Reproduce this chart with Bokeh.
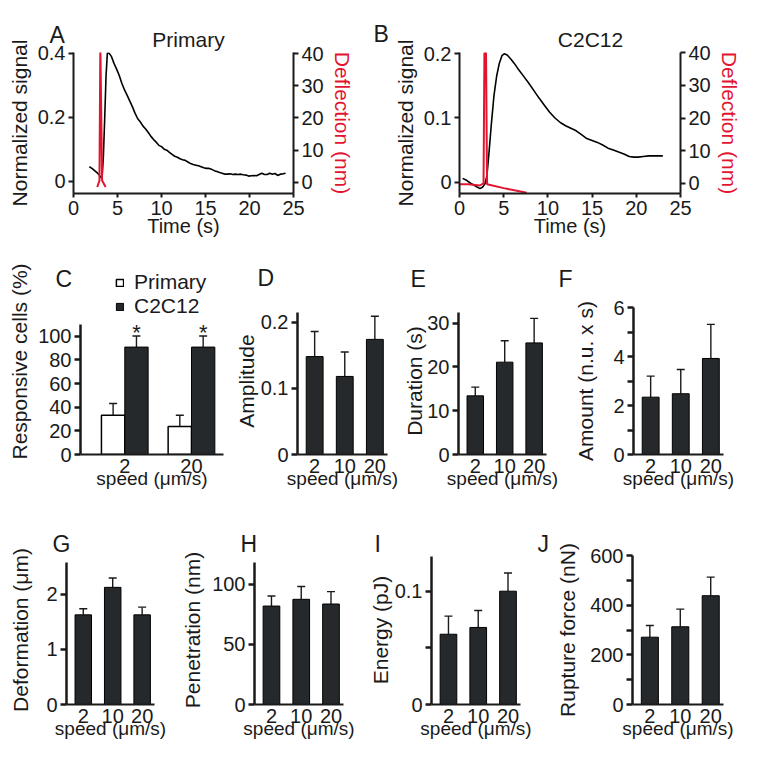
from bokeh.plotting import figure
from bokeh.layouts import column, row
from bokeh.models import (Range1d, LinearAxis, FixedTicker, Label, LabelSet,
                          Whisker, TeeHead, ColumnDataSource, Legend, LegendItem)
from bokeh.core.properties import value
from bokeh.embed import file_html
from bokeh.resources import INLINE

FONT = "Liberation Sans"
RED = "#e2142f"
DARK = "#26292b"
INK = "#1a1a1a"

# ---------------- data ----------------
a_time = [1.8, 2.1, 2.4, 2.7, 2.9, 3.1, 3.25, 3.4, 3.55, 3.7, 3.85, 4.05, 4.3, 4.6, 4.9,
          5.2, 5.5, 5.8, 6.1, 6.4, 6.7, 7.0, 7.3, 7.6, 7.9, 8.2, 8.5, 8.8, 9.1, 9.4, 9.7,
          10.0, 10.3, 10.6, 10.9, 11.2, 11.5, 11.8, 12.1, 12.4, 12.7, 13.0, 13.3, 13.6,
          13.9, 14.2, 14.5, 14.8, 15.1, 15.4, 15.7, 16.0, 16.3, 16.6, 16.9, 17.2, 17.5,
          17.8, 18.1, 18.4, 18.7, 19.0, 19.3, 19.6, 19.9, 20.2, 20.5, 20.8, 21.1, 21.4,
          21.7, 22.0, 22.3, 22.6, 22.9, 23.2, 23.5, 23.8, 24.1]
a_signal = [0.045, 0.040, 0.033, 0.026, 0.020, 0.012, 0.010, 0.08, 0.20, 0.33, 0.400, 0.400,
            0.390, 0.368, 0.350, 0.330, 0.305, 0.285, 0.268, 0.250, 0.232, 0.212, 0.195,
            0.185, 0.172, 0.163, 0.152, 0.140, 0.130, 0.122, 0.112, 0.108, 0.100, 0.097,
            0.090, 0.084, 0.078, 0.075, 0.070, 0.067, 0.065, 0.060, 0.055, 0.052, 0.050,
            0.048, 0.045, 0.042, 0.040, 0.040, 0.037, 0.033, 0.030, 0.027, 0.025, 0.022,
            0.022, 0.023, 0.021, 0.022, 0.021, 0.022, 0.020, 0.019, 0.016, 0.017, 0.018,
            0.017, 0.021, 0.025, 0.021, 0.021, 0.025, 0.022, 0.024, 0.018, 0.022, 0.023,
            0.025]
a_defl_time = [2.7, 2.95, 3.05, 3.25, 3.65]
a_defl = [-1.5, 0.5, 43.0, 0.5, -1.5]

b_time = [0.35, 0.8, 1.3, 1.8, 2.3, 2.6, 2.9, 3.1, 3.3, 3.6, 3.9, 4.2, 4.5, 4.8, 5.05,
          5.4, 5.8, 6.2, 6.7, 7.2, 7.8, 8.4, 9.0, 9.6, 10.2, 10.8, 11.4, 12.0, 12.6, 13.2,
          13.8, 14.4, 15.0, 15.6, 16.2, 16.8, 17.4, 18.0, 18.6, 19.2, 19.7, 20.2, 20.8,
          21.4, 22.0, 22.6, 23.0]
b_signal = [0.006, 0.003, -0.002, -0.006, -0.010, -0.008, -0.002, 0.010, 0.040, 0.090,
            0.135, 0.165, 0.185, 0.197, 0.200, 0.198, 0.192, 0.185, 0.175, 0.166, 0.155,
            0.143, 0.131, 0.120, 0.109, 0.100, 0.093, 0.088, 0.084, 0.080, 0.074, 0.068,
            0.065, 0.062, 0.058, 0.053, 0.050, 0.047, 0.044, 0.040, 0.039, 0.039, 0.040,
            0.041, 0.041, 0.041, 0.041]
b_defl_time = [0.0, 1.0, 2.3, 2.72, 2.82, 3.0, 3.12, 5.0, 7.6]
b_defl = [-0.3, -0.3, -0.7, 0.0, 40.0, 40.0, -0.3, -1.5, -2.9]

time_ticks = [0, 5, 10, 15, 20, 25]
defl_ticks = [0, 10, 20, 30, 40]
a_ticks = [0, 0.2, 0.4]
a_tick_labels = ["0", "0.2", "0.4"]
b_ticks = [0, 0.1, 0.2]
b_tick_labels = ["0", "0.1", "0.2"]

c_speeds = ["2", "20"]
c_primary = [33.2, 23.6]
c_primary_sem = [10.0, 9.6]
c_c2c12 = [90.9, 90.9]
c_c2c12_sem = [9.4, 9.4]
c_ticks = [0, 20, 40, 60, 80, 100]
c_tick_labels = ["0", "20", "40", "60", "80", "100"]

speeds = ["2", "10", "20"]
amplitude = [0.148, 0.118, 0.174]
amplitude_sem = [0.038, 0.037, 0.035]
duration = [13.4, 21.1, 25.5]
duration_sem = [2.0, 4.9, 5.6]
amount = [2.34, 2.48, 3.92]
amount_sem = [0.86, 0.99, 1.39]
deformation = [1.63, 2.13, 1.63]
deformation_sem = [0.11, 0.17, 0.14]
penetration = [81.8, 87.4, 83.5]
penetration_sem = [8.4, 10.6, 10.3]
energy = [0.062, 0.068, 0.100]
energy_sem = [0.016, 0.015, 0.016]
rupture = [271, 313, 438]
rupture_sem = [47, 71, 75]

d_ticks = [0, 0.1, 0.2]; d_tick_labels = ["0", "0.1", "0.2"]
e_ticks = [0, 10, 20, 30]; e_tick_labels = ["0", "10", "20", "30"]
f_ticks = [0, 1, 2, 3, 4, 5, 6]; f_tick_labels = ["0", "", "2", "", "4", "", "6"]
g_ticks = [0, 1, 2]; g_tick_labels = ["0", "1", "2"]
h_ticks = [0, 50, 100]; h_tick_labels = ["0", "50", "100"]
i_ticks = [0, 0.05, 0.1]; i_tick_labels = ["0", "", "0.1"]
j_ticks = [0, 100, 200, 300, 400, 500, 600]
j_tick_labels = ["0", "", "200", "", "400", "", "600"]

SPEED_LABEL = "speed (\u03bcm/s)"


# ---------------- helpers ----------------
def base_fig(w, h, left, right, top, bottom, xr, yr):
    p = figure(width=w, height=h, min_border_left=left, min_border_right=right,
               min_border_top=top, min_border_bottom=bottom,
               x_range=Range1d(*xr), y_range=Range1d(*yr),
               output_backend="svg", toolbar_location=None)
    p.xgrid.visible = False
    p.ygrid.visible = False
    p.outline_line_color = None
    return p


def style_axis(ax, tick_out=6, standoff=4, label_size="21px", line_width=2):
    ax.major_label_text_font = FONT
    ax.major_label_text_font_size = "20px"
    ax.major_label_text_color = INK
    ax.axis_label_text_font = FONT
    ax.axis_label_text_font_size = label_size
    ax.axis_label_text_font_style = "normal"
    ax.axis_label_text_color = INK
    ax.axis_label_standoff = standoff
    ax.minor_tick_line_color = None
    ax.major_tick_in = 0
    ax.major_tick_out = tick_out
    ax.major_label_standoff = 3
    ax.axis_line_width = line_width
    ax.axis_line_color = INK
    ax.major_tick_line_width = line_width
    ax.major_tick_line_color = INK


def side_text(p, x, y, text, size="23px", align="left", place="above"):
    p.add_layout(Label(x=x, y=y, x_units="screen", y_units="screen", text=text,
                       text_font=FONT, text_font_size=size, text_color=INK,
                       text_align=align, text_baseline="alphabetic"), place)


def trace_panel(w, left, right, yr, yr2, ticks, tick_labels, t, sig, td, defl,
                letter, letter_xy, title, title_xy):
    p = base_fig(w, 242, left, right, 52, 49, (0, 25), yr)
    p.extra_y_ranges = {"defl": Range1d(*yr2)}
    p.line(t, sig, line_color="black", line_width=1.6)
    p.line(td, defl, line_color=RED, line_width=2, y_range_name="defl")
    p.xaxis.ticker = FixedTicker(ticks=time_ticks)
    p.xaxis.axis_label = "Time (s)"
    style_axis(p.xaxis[0], tick_out=4, standoff=-3, label_size="20px")
    p.yaxis.ticker = FixedTicker(ticks=ticks)
    p.yaxis.major_label_overrides = dict(zip(ticks, tick_labels))
    p.yaxis.axis_label = "Normalized signal"
    style_axis(p.yaxis[0], tick_out=5, standoff=4)
    ax2 = LinearAxis(y_range_name="defl", ticker=FixedTicker(ticks=defl_ticks),
                     axis_label="Deflection (nm)")
    style_axis(ax2, tick_out=5, standoff=4)
    ax2.axis_label_text_color = RED
    p.add_layout(ax2, "right")
    side_text(p, title_xy[0], title_xy[1], title, size="21px", align="center")
    side_text(p, letter_xy[0], letter_xy[1], letter)
    return p


def bar_panel(w, h, left, right, top, bottom, yend, ybound, means, sems, ticks,
              tick_labels, ylabel, letter, letter_xy, ylab_standoff):
    p = base_fig(w, h, left, right, top, bottom, (0.43, 3.42), (0, yend))
    xs = [i + 1 for i in range(len(speeds))]
    upper = [m + s for m, s in zip(means, sems)]
    src = ColumnDataSource(dict(x=xs, top=means, upper=upper))
    p.add_layout(Whisker(source=src, base="x", lower="top", upper="upper",
                         lower_head=None,
                         upper_head=TeeHead(size=8, line_width=1.4, line_color=INK),
                         line_width=1.4, line_color=INK))
    p.vbar(x="x", top="top", bottom=0, width=0.56, source=src,
           fill_color=DARK, line_color="black", line_width=1)
    p.xaxis.ticker = FixedTicker(ticks=xs)
    p.xaxis.major_label_overrides = dict(zip(xs, speeds))
    p.xaxis.axis_label = SPEED_LABEL
    style_axis(p.xaxis[0], tick_out=0, standoff=-8, label_size="19px")
    p.xaxis.major_label_standoff = 4
    p.yaxis.ticker = FixedTicker(ticks=ticks)
    p.yaxis.major_label_overrides = dict(zip(ticks, tick_labels))
    p.yaxis.bounds = (0, ybound)
    p.yaxis.axis_label = ylabel
    style_axis(p.yaxis[0], tick_out=6, standoff=ylab_standoff, line_width=2.5)
    side_text(p, letter_xy[0], letter_xy[1], letter)
    return p


# ---------------- row 1 ----------------
pA = trace_panel(372, 73, 79, (-0.0384, 0.402), (-3.52, 40.4), a_ticks, a_tick_labels,
                 a_time, a_signal, a_defl_time, a_defl, "A", (-24, -5), "Primary", (115, 13))
pB = trace_panel(380, 87, 72, (-0.0176, 0.202), (-3.15, 40.1), b_ticks, b_tick_labels,
                 b_time, b_signal, b_defl_time, b_defl, "B", (-86, -4), "C2C12", (131, 13))

# ---------------- panel C (frame extended upward, axis bounded at 110) ----------------
pC = base_fig(230, 276, 80, 7, 26, 64, (0.336, 2.48), (0, 157.4))
cx = [i + 1 for i in range(len(c_speeds))]
src_p = ColumnDataSource(dict(x=[v - 0.175 for v in cx], top=c_primary,
                              upper=[m + s for m, s in zip(c_primary, c_primary_sem)]))
src_c = ColumnDataSource(dict(x=[v + 0.175 for v in cx], top=c_c2c12,
                              upper=[m + s for m, s in zip(c_c2c12, c_c2c12_sem)],
                              star=["*"] * len(cx)))
for s in (src_p, src_c):
    pC.add_layout(Whisker(source=s, base="x", lower="top", upper="upper", lower_head=None,
                          upper_head=TeeHead(size=8, line_width=1.4, line_color=INK),
                          line_width=1.4, line_color=INK))
rP = pC.vbar(x="x", top="top", bottom=0, width=0.35, source=src_p,
             fill_color="white", line_color="black", line_width=1.5)
rC = pC.vbar(x="x", top="top", bottom=0, width=0.35, source=src_c,
             fill_color=DARK, line_color="black", line_width=1)
pC.add_layout(LabelSet(x="x", y="upper", text="star", source=src_c, text_align="center",
                       text_baseline="alphabetic", y_offset=-4,
                       text_font=value(FONT), text_font_size=value("22px"),
                       text_color=INK))
pC.xaxis.ticker = FixedTicker(ticks=cx)
pC.xaxis.major_label_overrides = dict(zip(cx, c_speeds))
pC.xaxis.axis_label = SPEED_LABEL
style_axis(pC.xaxis[0], tick_out=0, standoff=-8, label_size="19px")
pC.xaxis.major_label_standoff = 4
pC.yaxis.ticker = FixedTicker(ticks=c_ticks)
pC.yaxis.major_label_overrides = dict(zip(c_ticks, c_tick_labels))
pC.yaxis.bounds = (0, 110)
pC.yaxis.axis_label = "Responsive cells (%)"
style_axis(pC.yaxis[0], tick_out=6, standoff=4, line_width=2.5)
side_text(pC, -25, -10, "C")
leg = Legend(items=[LegendItem(label="Primary", renderers=[rP]),
                    LegendItem(label="C2C12", renderers=[rC])],
             location=(35, 136), orientation="vertical", glyph_width=9, glyph_height=9,
             label_text_font=FONT, label_text_font_size="21px", label_text_color=INK,
             label_standoff=10, spacing=0, padding=0, margin=0,
             border_line_color=None, background_fill_alpha=0)
pC.add_layout(leg, "center")

# row 2 frames: 307 -> 454 (shared top); axis lines end at the read maxima
pD = bar_panel(170, 276, 67, 13, 65, 64, 0.2222, 0.215, amplitude, amplitude_sem, d_ticks,
               d_tick_labels, "Amplitude", "D", (-40, 30), 0)
pE = bar_panel(158, 276, 54, 12, 65, 64, 33.59, 32.5, duration, duration_sem, e_ticks,
               e_tick_labels, "Duration (s)", "E", (-48, 29), -2)
pF = bar_panel(194, 276, 75, 29, 65, 64, 6.0, 6.0, amount, amount_sem, f_ticks,
               f_tick_labels, "Amount (n.u. x s)", "F", (-75, 29), 13)

# row 3 frames: 555 -> 704 (shared top)
pG = bar_panel(175, 241, 66, 21, 37, 55, 2.709, 2.59, deformation, deformation_sem, g_ticks,
               g_tick_labels, "Deformation (\u03bcm)", "G", (-14, 12), 11)
pH = bar_panel(190, 241, 79, 22, 37, 55, 123.8, 118, penetration, penetration_sem, h_ticks,
               h_tick_labels, "Penetration (nm)", "H", (-14, 12), 5)
pI = bar_panel(171, 241, 65, 16, 37, 55, 0.1315, 0.1306, energy, energy_sem, i_ticks,
               i_tick_labels, "Energy (pJ)", "I", (-57, 12), 0)
pJ = bar_panel(216, 241, 96, 29, 37, 55, 600, 600, rupture, rupture_sem, j_ticks,
               j_tick_labels, "Rupture force (nN)", "J", (-95, 12), 8)

layout = column(row(pA, pB), row(column(pC), pD, pE, pF), row(pG, pH, pI, pJ))
open("out.html", "w").write(file_html(layout, INLINE))
